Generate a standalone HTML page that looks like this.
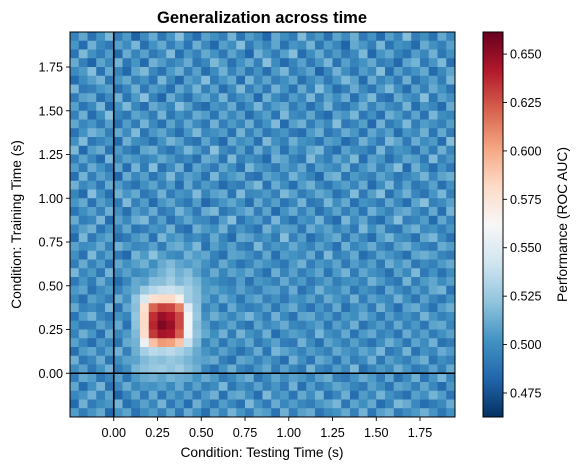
<!DOCTYPE html>
<html><head><meta charset="utf-8">
<style>
body{margin:0;background:#fff;width:580px;height:470px;overflow:hidden;}
svg text{font-family:"Liberation Sans",sans-serif;}
</style></head>
<body>
<svg id="chart" width="580" height="470" viewBox="0 0 580 470" xmlns="http://www.w3.org/2000/svg">
<defs>
<linearGradient id="cbgrad" x1="0" y1="1" x2="0" y2="0">
<stop offset="0" stop-color="#053061"/><stop offset="0.1" stop-color="#2166ac"/><stop offset="0.2" stop-color="#4393c3"/><stop offset="0.3" stop-color="#92c5de"/><stop offset="0.4" stop-color="#d1e5f0"/><stop offset="0.5" stop-color="#f7f7f7"/><stop offset="0.6" stop-color="#fddbc7"/><stop offset="0.7" stop-color="#f4a582"/><stop offset="0.8" stop-color="#d6604d"/><stop offset="0.9" stop-color="#b2182b"/><stop offset="1" stop-color="#67001f"/>
</linearGradient>
<clipPath id="plotclip"><rect x="70" y="32" width="385" height="385"/></clipPath>
</defs>
<text x="262" y="23" text-anchor="middle" font-size="16.5" font-weight="bold">Generalization across time</text>
<g id="cells" clip-path="url(#plotclip)"></g>
<g id="overlay"></g>
<rect x="70" y="32" width="385" height="385" fill="none" stroke="#000" stroke-width="1"/>
<g id="xaxis"></g><g id="yaxis"></g>
<text x="262" y="457" text-anchor="middle" font-size="13.8">Condition: Testing Time (s)</text>
<text transform="translate(21,224.5) rotate(-90)" text-anchor="middle" font-size="13.8">Condition: Training Time (s)</text>
<rect x="483" y="32" width="20" height="385" fill="url(#cbgrad)" stroke="#000" stroke-width="1"/>
<g id="cbaxis"></g>
<text transform="translate(567,224.5) rotate(-90)" text-anchor="middle" font-size="13.8">Performance (ROC AUC)</text>
</svg>
<script>
const tStart = -0.25;
const tStep = 0.05;
const xTicks = [0.00,0.25,0.50,0.75,1.00,1.25,1.50,1.75];
const yTicks = [0.00,0.25,0.50,0.75,1.00,1.25,1.50,1.75];
const cbTicks = [0.475,0.500,0.525,0.550,0.575,0.600,0.625,0.650];
const vMin = 0.4626, vMax = 0.6614;
const eventTime = [0.0];
// AUC x1000, rows top (1.95 s) to bottom (-0.25 s); columns -0.25 s to 1.95 s
const auc = [
[495,510,488,502,517,493,505,481,499,512,490,503,520,497,486,508,501,494,515,489,506,498,483,511,500,492,518,496,504,487,509,499,513,491,502,485,507,496,519,493,500,488,511,497],
[503,486,514,497,491,508,499,516,487,502,511,494,506,489,513,498,484,507,500,519,492,505,496,510,488,503,499,515,490,506,497,482,511,504,493,516,489,502,498,485,512,501,494,508],
[489,517,501,492,506,485,512,496,508,491,499,518,487,504,495,511,502,490,509,497,483,514,503,492,507,519,486,500,512,494,505,491,498,517,484,503,510,495,488,506,497,514,490,502],
[512,494,482,509,498,515,490,503,485,514,506,495,501,512,490,497,517,506,488,502,511,494,520,499,485,496,508,491,503,516,488,507,495,502,511,493,498,484,509,515,491,503,517,487],
[498,505,519,488,511,496,484,509,517,497,488,505,513,493,508,486,499,514,495,507,490,502,487,505,516,493,501,509,482,497,514,500,489,506,498,519,486,507,494,502,511,485,498,509],
[485,499,507,515,490,503,511,494,502,489,516,498,484,507,501,519,492,503,511,486,515,497,509,493,500,510,487,498,506,491,503,517,508,485,512,496,504,491,513,488,499,507,493,516],
[516,491,494,503,508,487,497,513,491,506,500,487,510,499,515,494,508,486,499,517,494,506,491,514,502,488,511,495,519,503,486,494,512,498,489,505,517,500,486,508,494,512,502,489],
[492,508,511,487,499,514,489,505,520,495,483,512,498,488,504,510,496,515,492,501,507,484,513,498,490,506,497,516,493,509,500,512,487,504,517,491,486,511,502,497,519,490,508,501],
[507,489,498,516,485,502,517,497,486,511,504,496,519,507,491,485,503,498,512,489,500,516,495,506,511,492,503,487,500,515,494,489,501,513,495,508,499,494,515,486,503,497,485,512],
[494,513,486,500,519,496,490,509,503,492,515,490,502,494,512,506,489,510,497,508,486,499,507,489,517,499,495,510,492,485,508,503,516,490,501,487,513,505,492,509,488,516,500,496],
[510,497,503,491,507,488,506,492,515,498,487,509,495,511,499,490,514,493,505,496,513,491,502,518,485,507,514,493,506,498,519,491,496,507,484,514,492,500,517,493,506,501,494,507],
[488,502,515,509,494,511,499,518,489,504,510,497,486,503,517,497,501,506,488,515,495,508,490,497,503,491,486,505,513,490,497,512,504,488,510,499,507,486,503,498,514,489,511,492],
[501,518,490,496,503,485,513,500,497,487,502,515,508,492,488,509,495,484,511,500,505,487,517,501,494,513,502,498,489,507,503,485,493,514,502,491,517,509,491,512,499,505,486,519],
[517,484,506,512,489,505,494,487,510,513,496,489,501,516,505,493,520,499,492,507,489,512,496,509,488,505,497,510,516,494,486,508,499,497,489,516,494,503,500,488,507,492,513,497],
[493,509,497,485,516,498,508,503,495,500,511,504,493,498,487,512,507,489,517,494,502,496,485,514,509,495,490,518,501,493,510,500,517,486,508,503,487,498,510,506,491,518,495,504],
[506,492,512,502,491,510,486,515,492,519,488,499,514,485,509,501,491,510,500,487,516,504,499,491,506,499,511,489,507,502,497,514,490,503,512,494,506,519,485,513,500,486,502,491],
[487,515,493,508,499,483,512,497,507,489,501,517,496,508,503,488,516,497,505,511,491,487,509,503,494,515,503,496,484,511,515,489,505,498,493,509,501,490,497,503,515,497,509,513],
[514,498,504,490,511,506,495,488,501,509,494,506,486,511,493,505,499,485,496,492,508,517,488,512,500,486,506,514,498,490,502,507,496,512,485,500,516,493,508,490,496,508,487,501],
[496,485,519,501,487,514,503,511,490,497,514,492,503,499,518,496,508,512,489,518,497,499,505,494,517,508,492,501,511,505,488,496,518,491,507,519,488,503,514,497,489,503,516,494],
[503,511,488,507,498,492,518,494,506,485,503,510,497,490,506,484,494,503,510,500,486,511,496,507,489,497,515,490,494,516,500,511,487,502,498,491,510,497,486,509,520,494,499,508],
[489,500,508,494,513,501,487,506,498,512,491,497,515,504,491,512,517,490,497,506,513,493,509,485,502,512,495,507,487,498,509,493,505,489,514,503,495,508,512,501,492,511,487,515],
[512,493,497,516,486,508,497,512,517,494,507,488,500,510,499,497,488,506,519,489,500,506,491,516,496,487,503,499,515,493,485,516,499,510,492,486,504,519,493,496,506,485,510,496],
[497,507,514,489,502,495,510,489,493,503,499,514,491,486,513,505,500,514,492,503,495,488,514,500,508,506,490,512,502,509,497,504,491,517,500,511,492,489,507,514,498,502,493,503],
[485,516,491,503,509,487,492,504,510,488,516,502,507,495,500,492,511,496,485,511,508,498,503,492,519,494,507,486,496,505,512,490,508,497,485,506,515,501,498,487,510,516,499,488],
[508,499,502,511,495,514,505,497,499,508,492,510,513,503,517,488,507,498,508,494,490,517,496,504,499,511,501,495,508,499,487,513,496,503,512,497,490,508,513,502,495,491,512,506],
[501,488,517,496,507,492,484,515,505,521,507,500,497,514,506,510,495,487,509,507,501,492,510,487,506,502,498,511,490,517,494,499,511,486,494,509,503,496,487,509,513,507,496,492],
[493,512,495,506,489,510,501,507,514,500,512,518,510,506,511,502,493,511,500,489,496,508,502,497,490,505,514,493,504,499,509,491,506,498,507,491,513,503,511,490,499,494,505,511],
[516,497,505,490,515,499,508,498,502,509,515,522,514,519,508,497,512,496,509,503,511,497,487,513,496,508,493,502,510,489,505,515,492,510,501,497,487,508,498,517,491,502,488,500],
[491,503,492,512,497,486,497,511,508,519,520,527,518,523,516,504,500,495,492,506,488,504,500,494,511,497,505,491,499,507,493,500,503,495,514,505,495,490,515,493,505,510,499,507],
[504,509,488,499,505,495,506,512,525,533,538,540,536,528,519,505,509,502,497,508,499,493,506,508,495,512,488,497,514,501,499,509,490,502,497,488,510,499,492,506,496,511,515,489],
[498,487,507,501,493,513,501,522,545,578,582,582,568,528,520,508,496,512,503,490,505,510,494,501,491,503,500,508,494,512,503,496,514,493,508,502,497,514,500,489,508,497,490,502],
[511,495,499,493,516,488,510,520,578,620,630,628,612,550,522,496,505,489,511,498,493,497,508,490,505,512,497,488,503,493,511,487,499,506,491,514,499,486,508,512,499,488,506,513],
[489,506,515,497,491,502,496,523,582,635,648,642,628,560,524,501,513,505,496,507,516,503,492,514,498,488,509,511,497,505,491,505,500,512,503,490,507,496,502,494,515,503,494,500],
[502,491,492,508,499,511,488,521,582,638,655,648,628,560,520,507,492,499,509,494,488,509,498,503,512,497,494,502,508,490,507,498,513,488,498,506,493,511,495,504,490,509,511,496],
[495,513,503,487,512,497,505,518,580,632,645,642,622,558,522,511,500,514,492,515,502,496,513,486,500,507,503,494,516,501,496,511,489,505,511,495,501,489,512,497,507,492,501,508],
[508,496,486,504,496,489,511,515,555,592,605,603,590,540,518,495,507,490,505,499,510,491,500,508,493,491,514,499,487,509,502,494,507,496,488,500,513,504,490,509,499,514,488,493],
[487,505,510,495,507,514,494,513,528,535,532,535,530,522,512,503,496,508,499,488,497,512,489,516,509,503,495,506,500,494,511,503,498,510,503,516,491,497,515,488,502,497,512,505],
[513,490,497,512,490,500,508,509,518,522,520,524,521,516,510,508,512,494,487,510,506,495,505,497,486,514,501,489,511,505,489,508,493,499,514,490,507,500,494,506,513,489,500,495],
[499,508,491,502,514,492,500,516,521,524,526,522,527,519,514,497,488,502,513,496,491,503,511,492,508,497,490,515,497,492,506,497,517,487,496,505,498,513,503,491,496,508,494,511],
[492,511,506,489,497,507,489,505,511,514,509,515,512,510,502,512,505,491,498,507,513,489,498,510,499,508,504,495,508,513,494,491,502,512,505,493,510,487,498,513,489,503,516,497],
[510,486,501,515,488,498,512,497,504,502,507,498,511,495,508,494,499,516,490,501,495,508,494,503,491,514,487,506,493,500,510,505,496,491,508,500,489,509,505,494,510,497,485,504],
[497,503,514,494,509,483,496,510,491,512,489,506,497,508,491,505,514,487,509,512,500,486,517,499,505,489,511,500,515,488,497,513,486,506,497,515,502,494,487,507,501,515,506,489],
[485,514,492,500,504,515,487,495,508,497,515,491,505,486,513,499,490,506,497,488,517,502,491,512,497,506,497,493,504,509,516,490,509,500,511,486,496,517,512,498,486,492,498,512],
[506,492,503,511,484,502,509,488,499,506,494,510,490,512,500,487,509,497,515,503,493,510,506,488,514,493,508,512,489,498,502,511,494,515,489,508,513,491,499,505,514,503,490,501]
];

const X0 = 70, Y0 = 32, PW = 385, PH = 385, SPAN = 2.2;
function xScale(t){ return X0 + (t - tStart) / SPAN * PW; }
function yScale(t){ return Y0 + PH - (t - tStart) / SPAN * PH; }
function cScale(v){ return Y0 + PH - (v - vMin) / (vMax - vMin) * PH; }

const stops = ["#053061","#2166ac","#4393c3","#92c5de","#d1e5f0","#f7f7f7","#fddbc7","#f4a582","#d6604d","#b2182b","#67001f"];
function hex(h){ return [1,3,5].map(i => parseInt(h.substr(i,2),16)); }
function color(v){
  let f = (v - vMin) / (vMax - vMin);
  f = Math.max(0, Math.min(1, f)) * 10;
  const i = Math.min(9, Math.floor(f)), r = f - i;
  const a = hex(stops[i]), b = hex(stops[i+1]);
  return "rgb(" + a.map((c,k) => Math.round(c + (b[k]-c)*r)).join(",") + ")";
}
const NS = "http://www.w3.org/2000/svg";
const cells = document.getElementById("cells");
const nRows = auc.length;
auc.forEach((row, r) => {
  const tyTop = tStart + (nRows - r) * tStep;
  row.forEach((val, c) => {
    const tx = tStart + c * tStep;
    const x1 = xScale(tx), x2 = xScale(tx + tStep);
    const y1 = yScale(tyTop), y2 = yScale(tyTop - tStep);
    const rect = document.createElementNS(NS, "rect");
    rect.setAttribute("x", x1.toFixed(2));
    rect.setAttribute("y", y1.toFixed(2));
    rect.setAttribute("width", (x2 - x1 + 0.4).toFixed(2));
    rect.setAttribute("height", (y2 - y1 + 0.4).toFixed(2));
    rect.setAttribute("fill", color(val / 1000));
    
    
    cells.appendChild(rect);
  });
});
const overlay = document.getElementById("overlay");
eventTime.forEach(t => {
  const vl = document.createElementNS(NS, "line");
  vl.setAttribute("x1", xScale(t)); vl.setAttribute("x2", xScale(t));
  vl.setAttribute("y1", Y0); vl.setAttribute("y2", Y0 + PH);
  vl.setAttribute("stroke", "#000"); vl.setAttribute("stroke-width", "1.6");
  
  
  overlay.appendChild(vl);
  const hl = document.createElementNS(NS, "line");
  hl.setAttribute("y1", yScale(t)); hl.setAttribute("y2", yScale(t));
  hl.setAttribute("x1", X0); hl.setAttribute("x2", X0 + PW);
  hl.setAttribute("stroke", "#000"); hl.setAttribute("stroke-width", "1.6");
  
  
  overlay.appendChild(hl);
});
function addTick(g, x1, y1, x2, y2){
  const l = document.createElementNS(NS, "line");
  l.setAttribute("x1", x1); l.setAttribute("y1", y1); l.setAttribute("x2", x2); l.setAttribute("y2", y2);
  l.setAttribute("stroke", "#000"); l.setAttribute("stroke-width", "0.9");
  
  
  g.appendChild(l);
}
function addLabel(g, x, y, txt, anchor, name){
  const t = document.createElementNS(NS, "text");
  t.setAttribute("x", x); t.setAttribute("y", y);
  t.setAttribute("text-anchor", anchor); t.setAttribute("font-size", "12.6");
  t.textContent = txt;
  
  
  g.appendChild(t);
}
const xg = document.getElementById("xaxis");
xTicks.forEach(t => { const x = xScale(t); addTick(xg, x, 417, x, 421); addLabel(xg, x, 437, t.toFixed(2), "middle", "x-tick-label"); });
const yg = document.getElementById("yaxis");
yTicks.forEach(t => { const y = yScale(t); addTick(yg, 66, y, 70, y); addLabel(yg, 63, y + 4.5, t.toFixed(2), "end", "y-tick-label"); });
const cg = document.getElementById("cbaxis");
cbTicks.forEach(v => { const y = cScale(v); addTick(cg, 503, y, 507, y); addLabel(cg, 510, y + 4.5, v.toFixed(3), "start", "colorbar-tick-label"); });
</script>
</body></html>
